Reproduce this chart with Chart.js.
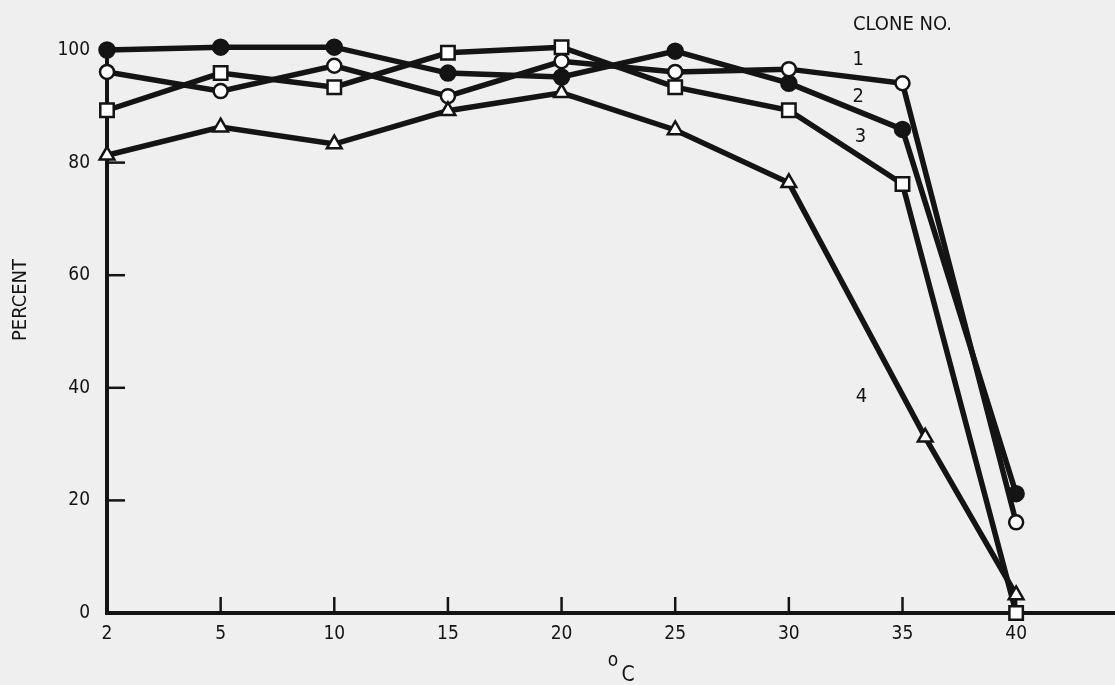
<!DOCTYPE html>
<html>
<head>
<meta charset="utf-8">
<script src="https://cdn.jsdelivr.net/npm/chart.js@4"></script>
<style>
  html, body { margin: 0; padding: 0; background: #efeff0; }
  #wrap { width: 1115px; height: 685px; position: relative; }
</style>
</head>
<body>
<div id="wrap"><canvas id="tempChart"></canvas></div>
<script>
// temperature (deg C) categories, evenly spaced on the axis
const tempLabels = ['2', '5', '10', '15', '20', '25', '30', '35', '40'];
const tempIndex = [0, 1, 2, 3, 4, 5, 6, 7, 8];
// clone 4 was read a little past 35 (about 36 C)
const clone4Index = [0, 1, 2, 3, 4, 5, 6, 7.2, 8];

// percent per clone
const clone1 = [96.1, 92.7, 97.2, 91.8, 98.0, 96.1, 96.6, 94.1, 16.1];
const clone2 = [100, 100.5, 100.5, 95.9, 95.2, 99.8, 94.1, 85.9, 21.2];
const clone3 = [89.3, 95.9, 93.4, 99.5, 100.5, 93.4, 89.3, 76.2, 0];
const clone4 = [81.3, 86.3, 83.3, 89.2, 92.4, 85.8, 76.4, 31.2, 3.2];
const cloneNames = ['1', '2', '3', '4'];

const ink = '#141414';
const font = "'Liberation Sans Narrow', 'DejaVu Sans Condensed', sans-serif";

function pts(xs, ys) {
    return ys.map((v, i) => ({ x: xs[i], y: v }));
}

function series(label, xs, ys, style, fill, radius) {
    return {
        label: label, data: pts(xs, ys),
        borderColor: ink, borderWidth: 5.5, tension: 0,
        pointStyle: style, pointRadius: radius, pointBackgroundColor: fill,
        pointBorderColor: ink, pointBorderWidth: 2.5, clip: false
    };
}

// inward tick marks, curve numbers and titles
const decor = {
    id: 'decor',
    beforeDatasetsDraw(chart) {
        const { ctx, chartArea, scales: { x, y } } = chart;
        ctx.save();
        ctx.strokeStyle = ink;
        ctx.lineWidth = 2.5;
        y.ticks.forEach(t => {
            if (t.value <= 0) return;
            const py = y.getPixelForValue(t.value);
            ctx.beginPath(); ctx.moveTo(chartArea.left, py); ctx.lineTo(chartArea.left + 18, py); ctx.stroke();
        });
        x.ticks.forEach(t => {
            if (t.value <= 0 || t.value > 8) return;
            const px = x.getPixelForValue(t.value);
            ctx.beginPath(); ctx.moveTo(px, chartArea.bottom); ctx.lineTo(px, chartArea.bottom - 16); ctx.stroke();
        });
        ctx.restore();
    },
    afterDraw(chart) {
        const { ctx, chartArea, scales: { x, y } } = chart;
        ctx.save();
        ctx.fillStyle = ink;
        ctx.textAlign = 'center';
        ctx.textBaseline = 'middle';
        ctx.font = '20px ' + font;
        const noteX = [6.61, 6.61, 6.63, 6.64];
        const noteY = [98.2, 91.7, 84.5, 38.4];
        cloneNames.forEach((n, i) => {
            ctx.fillText(n, x.getPixelForValue(noteX[i]), y.getPixelForValue(noteY[i]));
        });
        ctx.font = '20px ' + font;
        ctx.fillText('CLONE NO.', x.getPixelForValue(7.0), 25);
        // y title
        ctx.save();
        ctx.translate(21, 300);
        ctx.rotate(-Math.PI / 2);
        ctx.font = '20px ' + font;
        ctx.fillText('PERCENT', 0, 0);
        ctx.restore();
        // x title: degree sign raised above the C
        const cx = (chartArea.left + chartArea.right) / 2;
        ctx.font = '19px ' + font;
        ctx.fillText('o', cx + 2, 661);
        ctx.font = '21px ' + font;
        ctx.fillText('C', cx + 17, 676);
        ctx.restore();
    }
};

const ctx = document.getElementById('tempChart').getContext('2d');
Chart.defaults.color = ink;
Chart.defaults.font.family = font;

const tempChart = new Chart(ctx, {
    type: 'line',
    data: {
        datasets: [
            series('Clone 4', clone4Index, clone4, 'triangle', '#ffffff', 8.5),
            series('Clone 3', tempIndex, clone3, 'rect', '#ffffff', 9.5),
            series('Clone 1', tempIndex, clone1, 'circle', '#ffffff', 7),
            series('Clone 2', tempIndex, clone2, 'circle', ink, 7.5)
        ]
    },
    options: {
        responsive: true,
        maintainAspectRatio: false,
        animation: false,
        layout: { autoPadding: false, padding: { top: 50, right: 0, left: 0, bottom: 0 } },
        plugins: { legend: { display: false }, tooltip: { enabled: false } },
        scales: {
            x: {
                type: 'linear', min: 0, max: 8.87,
                grid: { display: false, drawTicks: false },
                border: { display: true, color: ink, width: 4 },
                ticks: {
                    stepSize: 1, includeBounds: false, padding: 10, autoSkip: false, maxRotation: 0,
                    font: { size: 19, family: font }, color: ink,
                    callback: v => (Number.isInteger(v) && tempLabels[v]) ? tempLabels[v] : ''
                },
                afterFit: s => { s.height = 72; s.paddingLeft = 0; s.paddingRight = 0; }
            },
            y: {
                min: 0, max: 100,
                grid: { display: false, drawTicks: false },
                border: { display: true, color: ink, width: 4 },
                ticks: { stepSize: 20, padding: 17, font: { size: 19, family: font }, color: ink },
                afterFit: s => { s.width = 107; s.paddingTop = 0; s.paddingBottom = 0; }
            }
        }
    },
    plugins: [decor]
});
</script>
</body>
</html>
